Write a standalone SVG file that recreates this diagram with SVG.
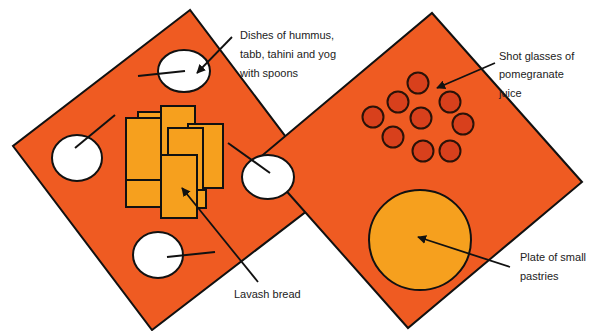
<svg xmlns="http://www.w3.org/2000/svg" width="592" height="331" viewBox="0 0 592 331">
<defs>
<style>
.table{fill:#EF5B22;stroke:#111;stroke-width:2;stroke-linejoin:miter}
.dish{fill:#fff;stroke:#111;stroke-width:2}
.spoon{stroke:#111;stroke-width:2;fill:none}
.bread{fill:#F6A01E;stroke:#111;stroke-width:2}
.glass{fill:#D8401C;stroke:#2a1208;stroke-width:2}
.plate{fill:#F6A01E;stroke:#111;stroke-width:2}
.lead{stroke:#111;stroke-width:1.8;fill:none;marker-end:url(#ah)}
.lbl{font-family:"Liberation Sans",Arial,sans-serif;font-size:11px;fill:#222}
</style>
<marker id="ah" viewBox="0 0 10 10" refX="9" refY="5" markerWidth="5" markerHeight="5" orient="auto" markerUnits="strokeWidth">
<path d="M0,0 L10,5 L0,10 z" fill="#111"/>
</marker>
</defs>
<rect width="592" height="331" fill="#fff"/>
<g id="left-table">
<polygon class="table" points="190,10 13,146 152,330 329,194"/>
</g>
<g id="right-table">
<polygon class="table" points="432,13 582,182 408,328 258,159"/>
</g>
<g id="lavash">
<rect class="bread" x="138" y="112" width="30" height="22"/>
<rect class="bread" x="126" y="118" width="35" height="62"/>
<rect class="bread" x="126" y="180" width="35" height="27"/>
<rect class="bread" x="161" y="106" width="34" height="60"/>
<rect class="bread" x="188" y="124" width="35" height="64"/>
<rect class="bread" x="168" y="128" width="35" height="63"/>
<rect class="bread" x="196" y="190" width="10" height="18"/>
<rect class="bread" x="161" y="155" width="36" height="63"/>
</g>
<g id="dishes">
<ellipse class="dish" cx="184" cy="71" rx="26" ry="21"/>
<line class="spoon" x1="138" y1="76" x2="185" y2="71"/>
<ellipse class="dish" cx="77" cy="158" rx="25" ry="23"/>
<line class="spoon" x1="115" y1="115" x2="75" y2="148"/>
<ellipse class="dish" cx="268" cy="177" rx="26" ry="22"/>
<line class="spoon" x1="228" y1="143" x2="270" y2="173"/>
<ellipse class="dish" cx="158" cy="255" rx="25" ry="23"/>
<line class="spoon" x1="167" y1="257" x2="215" y2="252"/>
</g>
<g id="shot-glasses">
<circle class="glass" cx="418" cy="83" r="10.5"/>
<circle class="glass" cx="398" cy="102" r="10.5"/>
<circle class="glass" cx="450" cy="102" r="10.5"/>
<circle class="glass" cx="373" cy="117" r="10.5"/>
<circle class="glass" cx="421" cy="118" r="10.5"/>
<circle class="glass" cx="463" cy="124" r="10.5"/>
<circle class="glass" cx="393" cy="137" r="10.5"/>
<circle class="glass" cx="423" cy="151" r="10.5"/>
<circle class="glass" cx="450" cy="151" r="10.5"/>
</g>
<g id="pastry-plate">
<ellipse class="plate" cx="420" cy="240" rx="51" ry="50"/>
</g>
<g id="connectors">
<line class="lead" x1="232" y1="37" x2="197" y2="73"/>
<line class="lead" x1="258" y1="282" x2="182" y2="188"/>
<line class="lead" x1="495" y1="63" x2="437" y2="88"/>
<line class="lead" x1="510" y1="267" x2="418" y2="237"/>
</g>
<g id="labels">
<text class="lbl" x="240" y="39">Dishes of hummus,</text>
<text class="lbl" x="240" y="58">tabb, tahini and yog</text>
<text class="lbl" x="240" y="77">with spoons</text>
<text class="lbl" x="499" y="60">Shot glasses of</text>
<text class="lbl" x="499" y="78">pomegranate</text>
<text class="lbl" x="499" y="97">juice</text>
<text class="lbl" x="520" y="261">Plate of small</text>
<text class="lbl" x="520" y="280">pastries</text>
<text class="lbl" x="234" y="298">Lavash bread</text>
</g>
</svg>
